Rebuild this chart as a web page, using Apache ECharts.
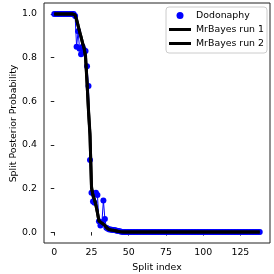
<!DOCTYPE html>
<html>
<head>
<meta charset="utf-8">
<script src="https://cdn.jsdelivr.net/npm/echarts@6/dist/echarts.min.js"></script>
<style>html,body{margin:0;padding:0;background:#fff}#c{width:274px;height:274px}</style>
</head>
<body>
<div id="c"></div>
<script>
var xTicks = [0, 25, 50, 75, 100, 125];
var yTicks = [0, 0.2, 0.4, 0.6, 0.8, 1.0];
var yTickLabels = ['0.0', '0.2', '0.4', '0.6', '0.8', '1.0'];
var seriesNames = ['Dodonaphy', 'MrBayes run 1', 'MrBayes run 2'];
var xName = 'Split index';
var yName = 'Split Posterior Probability';

var dodonaphy = [
  1,1,1,1,1,1,1,1,1,1,1,1,1,1,
  0.99,0.85,0.92,0.84,0.815,0.85,0.835,0.83,0.76,0.67,
  0.33,0.18,0.14,0.135,0.18,0.17,0.05,0.03,0.045,0.145,
  0.06,0.02,0.015,0.012,0.012,0.01,0.01,0.008,0.006,0.005,
  0.004,0.002,
  0,0,0,0,0,0,0,0,0,0,
  0,0,0,0,0,0,0,0,0,0,
  0,0,0,0,0,0,0,0,0,0,
  0,0,0,0,0,0,0,0,0,0,
  0,0,0,0,0,0,0,0,0,0,
  0,0,0,0,0,0,0,0,0,0,
  0,0,0,0,0,0,0,0,0,0,
  0,0,0,0,0,0,0,0,0,0,
  0,0,0,0,0,0,0,0,0,0,
  0,0,0
];

var mrbayes1 = [
  1,1,1,1,1,1,1,1,1,1,1,1,1,1,
  0.995,0.975,0.945,0.92,0.895,0.865,0.845,0.80,0.68,0.56,
  0.45,0.20,0.17,0.15,0.12,0.09,0.05,0.045,0.042,0.038,
  0.03,0.022,0.015,0.012,0.01,0.009,0.008,0.006,0.005,0.004,
  0.002,0.001,
  0,0,0,0,0,0,0,0,0,0,
  0,0,0,0,0,0,0,0,0,0,
  0,0,0,0,0,0,0,0,0,0,
  0,0,0,0,0,0,0,0,0,0,
  0,0,0,0,0,0,0,0,0,0,
  0,0,0,0,0,0,0,0,0,0,
  0,0,0,0,0,0,0,0,0,0,
  0,0,0,0,0,0,0,0,0,0,
  0,0,0,0,0,0,0,0,0,0,
  0,0,0
];

var mrbayes2 = [
  1,1,1,1,1,1,1,1,1,1,1,1,1,1,
  0.995,0.972,0.948,0.918,0.893,0.868,0.842,0.81,0.69,0.55,
  0.44,0.21,0.168,0.148,0.125,0.088,0.052,0.046,0.04,0.036,
  0.031,0.021,0.014,0.011,0.01,0.009,0.007,0.006,0.005,0.003,
  0.002,0.001,
  0,0,0,0,0,0,0,0,0,0,
  0,0,0,0,0,0,0,0,0,0,
  0,0,0,0,0,0,0,0,0,0,
  0,0,0,0,0,0,0,0,0,0,
  0,0,0,0,0,0,0,0,0,0,
  0,0,0,0,0,0,0,0,0,0,
  0,0,0,0,0,0,0,0,0,0,
  0,0,0,0,0,0,0,0,0,0,
  0,0,0,0,0,0,0,0,0,0,
  0,0,0
];

function pairs(arr) { return arr.map(function (v, i) { return [i, v]; }); }

var FONT = 'DejaVu Sans';
var FS = 9.4;
var linePath = 'path://M0,0L22,0L22,3L0,3Z';
var GRID_LEFT = 44;

var chart = echarts.init(document.getElementById('c'), null, {renderer: 'canvas'});
var baseGraphics = [
  {
    type: 'text', x: 13.3, y: 123.5, rotation: Math.PI / 2,
    style: {text: yName, fontFamily: FONT, fontSize: FS, fill: '#000', align: 'center', verticalAlign: 'middle'}
  },
  {
    type: 'text', x: 157, y: 267.5,
    style: {text: xName, fontFamily: FONT, fontSize: FS, fill: '#000', align: 'center', verticalAlign: 'middle'}
  }
];
chart.setOption({
  animation: false,
  textStyle: {fontFamily: FONT},
  grid: {left: GRID_LEFT, right: 4, top: 3, bottom: 31,
    show: true, borderColor: '#222', borderWidth: 1, backgroundColor: 'transparent'},
  graphic: baseGraphics,
  legend: {
    orient: 'vertical',
    right: 7,
    top: 7,
    padding: [3, 3, 4, 3],
    itemGap: 3,
    itemWidth: 22,
    itemHeight: 7,
    backgroundColor: 'rgba(255,255,255,0.8)',
    borderColor: '#cccccc',
    borderWidth: 1,
    borderRadius: 3,
    textStyle: {fontFamily: FONT, fontSize: FS, color: '#000', lineHeight: 11},
    data: [
      {name: seriesNames[0], icon: 'circle', itemStyle: {color: '#0000ff'}},
      {name: seriesNames[1], icon: linePath, itemStyle: {color: '#000'}},
      {name: seriesNames[2], icon: linePath, itemStyle: {color: '#000'}}
    ]
  },
  xAxis: {
    type: 'value',
    min: -6.9,
    max: 144.9,
    axisLine: {show: false},
    splitLine: {show: false},
    axisTick: {show: true, length: 3.5, lineStyle: {color: '#222', width: 1}, customValues: xTicks},
    axisLabel: {fontFamily: FONT, fontSize: FS, color: '#000', margin: 5, customValues: xTicks}
  },
  yAxis: {
    type: 'value',
    min: -0.05,
    max: 1.05,
    axisLine: {show: false},
    splitLine: {show: false},
    axisTick: {show: true, length: 3.5, lineStyle: {color: '#222', width: 1}, customValues: yTicks},
    axisLabel: {show: false}
  },
  series: [
    {
      name: seriesNames[0], type: 'line', data: pairs(dodonaphy),
      symbol: 'circle', symbolSize: 6, showSymbol: true, showAllSymbol: true,
      lineStyle: {color: '#0000ff', width: 1}, itemStyle: {color: '#0000ff'},
      z: 2
    },
    {
      name: seriesNames[1], type: 'line', data: pairs(mrbayes1),
      symbol: 'none', lineStyle: {color: '#000', width: 3}, itemStyle: {color: '#000'}, z: 3
    },
    {
      name: seriesNames[2], type: 'line', data: pairs(mrbayes2),
      symbol: 'none', lineStyle: {color: '#000', width: 3}, itemStyle: {color: '#000'}, z: 4
    }
  ]
});

// y tick labels placed through the axis scale
var yLabelGraphics = yTicks.map(function (v, i) {
  var py = chart.convertToPixel({yAxisIndex: 0}, v);
  return {
    type: 'text', x: GRID_LEFT - 7, y: py,
    style: {text: yTickLabels[i], fontFamily: FONT, fontSize: FS, fill: '#000', align: 'right', verticalAlign: 'middle'}
  };
});
chart.setOption({graphic: baseGraphics.concat(yLabelGraphics)});
</script>
</body>
</html>
